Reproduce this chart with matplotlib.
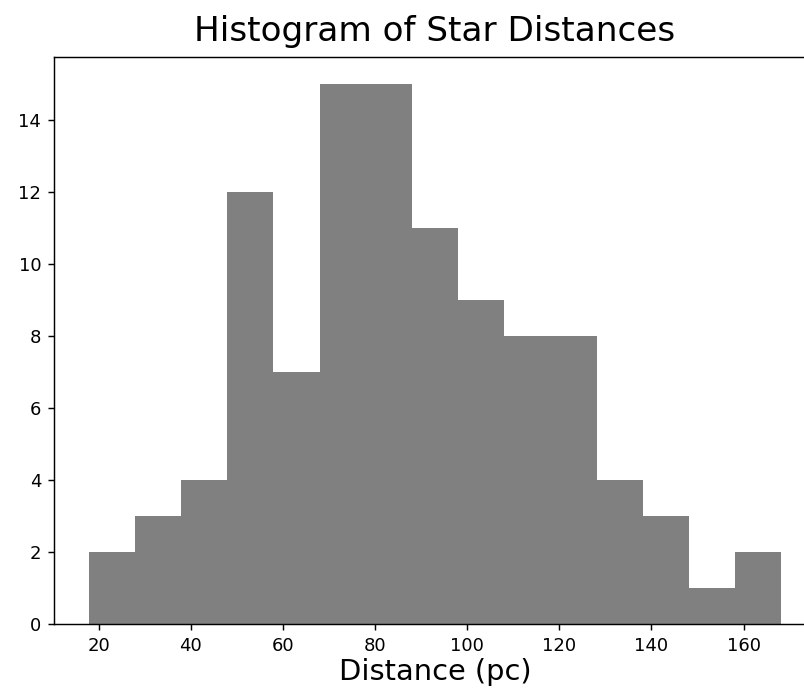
import matplotlib
matplotlib.use('Agg')
import matplotlib.pyplot as plt
import numpy as np

# bin edges (pc) and star counts per bin
bin_edges = np.linspace(17.8, 168.2, 16)
counts = [2, 3, 4, 12, 7, 15, 15, 11, 9, 8, 8, 4, 3, 1, 2]

fig = plt.figure(figsize=(804 / 130, 696 / 130), dpi=130)
ax = fig.add_axes([54 / 804, 72 / 696, 762 / 804, 567 / 696])

# histogram from precomputed counts
ax.hist(bin_edges[:-1], bins=bin_edges, weights=counts, color='gray')

# the right edge of the axes falls outside the saved frame
ax.spines['right'].set_visible(False)

ax.set_title('Histogram of Star Distances', fontsize=19, pad=9)
ax.set_xlabel('Distance (pc)', fontsize=16, labelpad=2)

fig.savefig('out.png', dpi=130)
